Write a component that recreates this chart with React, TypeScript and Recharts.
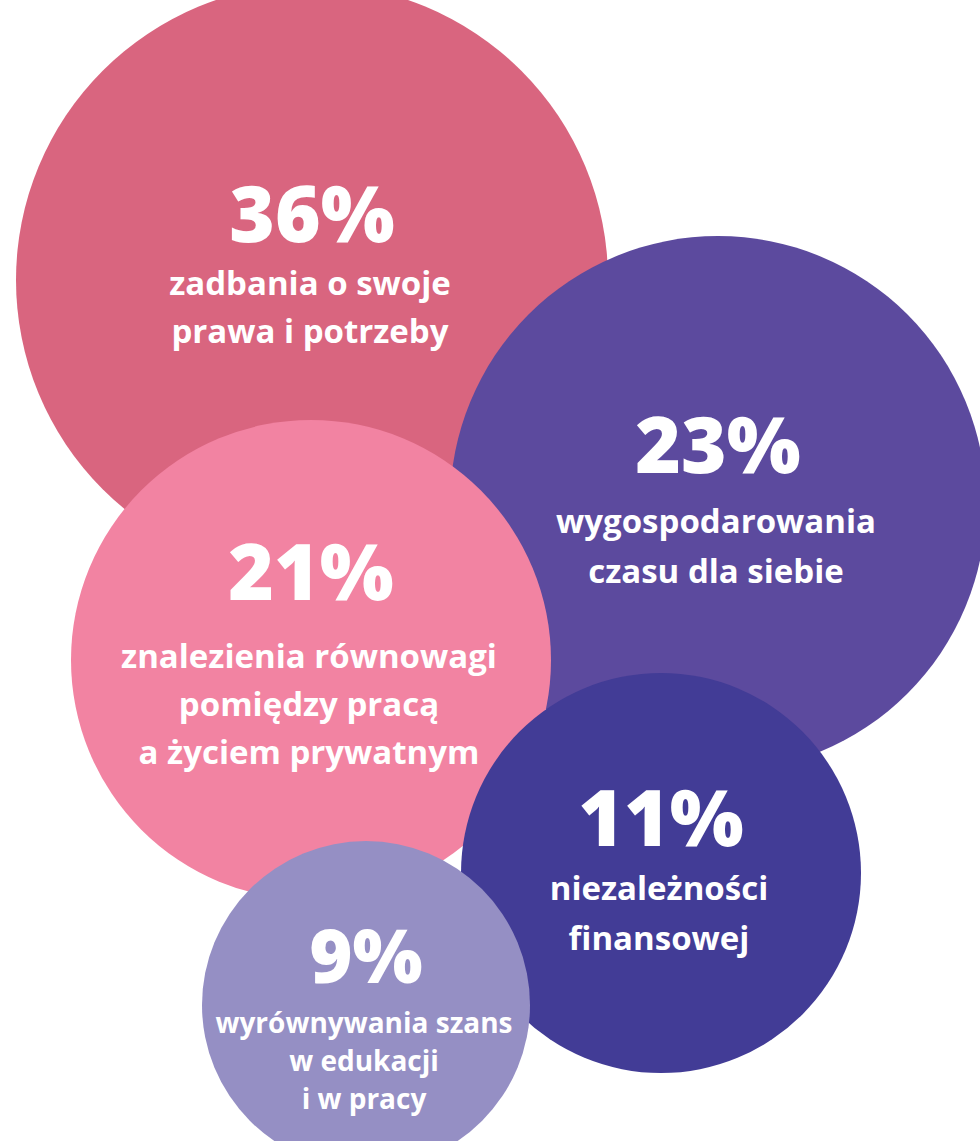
import React from "react";
import { ScatterChart, Scatter, XAxis, YAxis } from "recharts";

const W = 980;
const H = 1141;

const values = ["36%", "23%", "21%", "11%", "9%"];
const labels = [
  ["zadbania o swoje", "prawa i potrzeby"],
  ["wygospodarowania", "czasu dla siebie"],
  ["znalezienia równowagi", "pomiędzy pracą", "a życiem prywatnym"],
  ["niezależności", "finansowej"],
  ["wyrównywania szans", "w edukacji", "i w pracy"],
];
const centerX = [312, 718, 311, 661, 366];
const centerY = [280, 504, 660, 873, 1005];
const radius = [296, 268, 240, 200, 164];
const colors = ["#D9657F", "#5C4A9E", "#F283A2", "#423C96", "#958FC4"];

// text layout relative to circle centre (value baseline, first line, line gap, sizes)
const valueDy = [-38, -31, -60, -27, -22];
const lineDy = [15, 29, 8, 27, 28];
const lineGap = [48, 50, 48, 50, 38];
const valueSize = [78, 78, 78, 78, 74];
const labelSize = [33, 33, 33, 33, 28];

const data = values.map((v, i) => ({
  x: centerX[i],
  y: centerY[i],
  r: radius[i],
  value: v,
  lines: labels[i],
  idx: i,
}));

const Bubble = (props: any) => {
  const { cx, cy, payload } = props;
  const i = payload.idx;
  // x axis maps 1 unit to 1 px, so r is in px
  const r = payload.r;
  return (
    <g>
      <circle cx={cx} cy={cy} r={r} fill={colors[i]} />
      <text
        x={cx}
        y={cy + valueDy[i]}
        textAnchor="middle"
        fill="#fff"
        fontSize={valueSize[i]}
        fontWeight={800}
        fontFamily="'Open Sans', sans-serif"
      >
        {payload.value}
      </text>
      {payload.lines.map((l: string, k: number) => (
        <text
          key={k}
          x={cx - 2}
          y={cy + lineDy[i] + k * lineGap[i]}
          textAnchor="middle"
          fill="#fff"
          fontSize={labelSize[i]}
          fontWeight={700}
          fontFamily="'Open Sans', sans-serif"
        >
          {l}
        </text>
      ))}
    </g>
  );
};

const App: React.FC = () => {
  return (
    <div style={{ position: "absolute", left: 0, top: 0, width: W, height: H, background: "#fff", overflow: "hidden" }}>
      <ScatterChart width={W} height={H} margin={{ top: 0, right: 0, bottom: 0, left: 0 }}>
        <XAxis type="number" dataKey="x" domain={[0, W]} hide />
        <YAxis type="number" dataKey="y" domain={[0, H]} reversed hide />
        <Scatter data={data} shape={Bubble} isAnimationActive={false} />
      </ScatterChart>
    </div>
  );
};

export default App;
